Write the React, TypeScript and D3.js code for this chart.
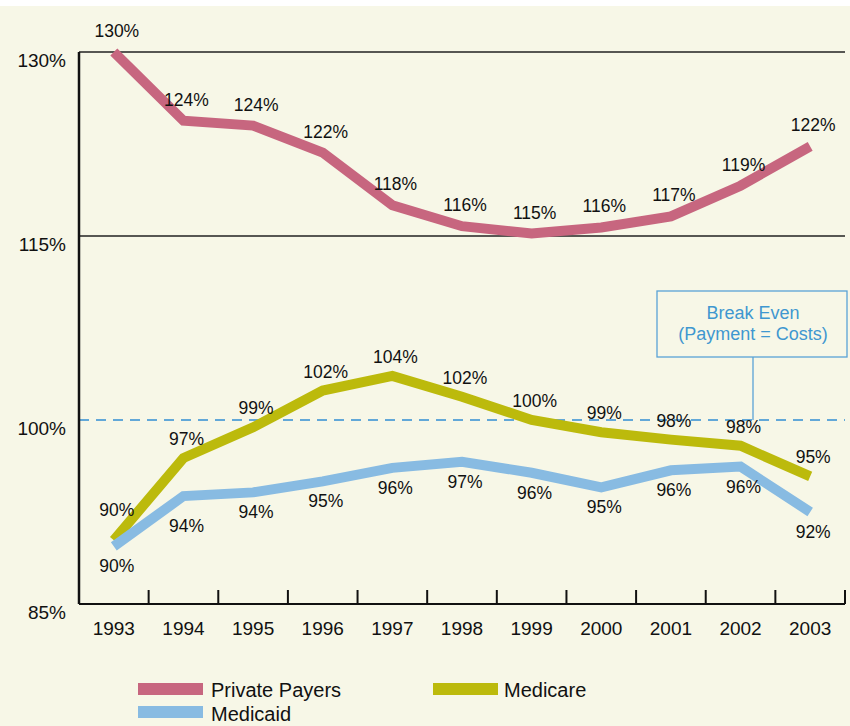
import React from "react";
import { scaleLinear, scaleBand, line } from "d3";

const years = ["1993", "1994", "1995", "1996", "1997", "1998", "1999", "2000", "2001", "2002", "2003"];
const privatePayers = [130, 124.4, 124.0, 121.8, 117.5, 115.8, 115.2, 115.7, 116.6, 119.1, 122.3];
const medicare = [90.2, 96.9, 99.4, 102.4, 103.6, 101.9, 100.0, 99.0, 98.4, 97.9, 95.4];
const medicaid = [89.7, 93.8, 94.1, 95.0, 96.1, 96.6, 95.7, 94.5, 95.9, 96.2, 92.5];
const privateLabels = ["130%", "124%", "124%", "122%", "118%", "116%", "115%", "116%", "117%", "119%", "122%"];
const medicareLabels = ["90%", "97%", "99%", "102%", "104%", "102%", "100%", "99%", "98%", "98%", "95%"];
const medicaidLabels = ["90%", "94%", "94%", "95%", "96%", "97%", "96%", "95%", "96%", "96%", "92%"];
const yTicks = [130, 115, 100, 85];

const W = 850;
const H = 726;
const margin = { left: 79, right: 5, top: 52, bottom: 122 };
const FONT = "'Liberation Sans', Arial, sans-serif";

export default function App() {
    const x = scaleBand().domain(years).range([margin.left, W - margin.right]);
    const y = scaleLinear().domain([85, 130]).range([H - margin.bottom, margin.top]);
    const cx = (i: number) => (x(years[i]) as number) + x.bandwidth() / 2;

    const mkLine = line<number>().x((_, i) => cx(i)).y(d => y(d));

    const series = [
        { name: "Private Payers", values: privatePayers, labels: privateLabels, color: "#c7667f", dy: -15 },
        { name: "Medicare", values: medicare, labels: medicareLabels, color: "#bcba0c", dy: -13 },
        { name: "Medicaid", values: medicaid, labels: medicaidLabels, color: "#88bbe2", dy: 26 }
    ];

    const x0 = margin.left;
    const x1 = W - margin.right;
    const yBase = y(85);
    const breakX = 753;

    return (
        <div style={{ position: "absolute", left: 0, top: 0 }}>
            <svg width={W} height={H} style={{ display: "block" }} fontFamily={FONT}>
                <rect x={0} y={0} width={W} height={H} fill="#ffffff" />
                <rect x={0} y={6} width={W} height={H - 6} fill="#f7f7e7" />

                {/* grid lines */}
                {[130, 115].map(t => (
                    <line key={t} x1={x0} x2={x1} y1={y(t)} y2={y(t)} stroke="#222" strokeWidth={1.3} />
                ))}

                {/* break even */}
                <line x1={x0} x2={x1} y1={y(100)} y2={y(100)} stroke="#62a8d8" strokeWidth={2} strokeDasharray="10 7" />
                <line x1={breakX} x2={breakX} y1={357} y2={y(100)} stroke="#5aa3d6" strokeWidth={1.3} />
                <rect x={657} y={291} width={190} height={66} fill="#f7f7e7" stroke="#5aa3d6" strokeWidth={1.3} />
                <text x={breakX} y={319} textAnchor="middle" fontSize={18} fill="#3f97d0">Break Even</text>
                <text x={breakX} y={340} textAnchor="middle" fontSize={18} fill="#3f97d0">(Payment = Costs)</text>

                {/* axes */}
                <line x1={x0} x2={x0} y1={y(130)} y2={yBase} stroke="#111" strokeWidth={2.5} />
                <line x1={x0} x2={x1} y1={yBase} y2={yBase} stroke="#111" strokeWidth={2} />
                {years.map(yr => (
                    <line key={yr} x1={(x(yr) as number) + x.bandwidth()} x2={(x(yr) as number) + x.bandwidth()}
                        y1={yBase} y2={yBase - 14} stroke="#111" strokeWidth={2} />
                ))}
                {yTicks.map(t => (
                    <text key={t} x={66} y={y(t) + 15} textAnchor="end" fontSize={19} fill="#111">{t}%</text>
                ))}
                {years.map((yr, i) => (
                    <text key={yr} x={cx(i)} y={yBase + 31} textAnchor="middle" fontSize={19} fill="#111">{yr}</text>
                ))}

                {/* lines */}
                {series.map(s => (
                    <path key={s.name} d={mkLine(s.values) || ""} fill="none" stroke={s.color} strokeWidth={10} strokeLinejoin="miter" />
                ))}

                {/* value labels */}
                {series.map(s => s.labels.map((lb, i) => {
                    let dy = s.dy;
                    if (s.name === "Medicare" && i === 0) dy = -24;
                    if (s.name === "Medicaid" && i === 1) dy = 36;
                    return (
                        <text key={s.name + i} x={cx(i) + 3} y={y(s.values[i]) + dy} textAnchor="middle" fontSize={17.5} fill="#111">{lb}</text>
                    );
                }))}

                {/* legend */}
                <rect x={138} y={683} width={65} height={12} fill="#c7667f" />
                <text x={211} y={697} fontSize={20} fill="#111">Private Payers</text>
                <rect x={433} y={683} width={65} height={12} fill="#bcba0c" />
                <text x={504} y={697} fontSize={20} fill="#111">Medicare</text>
                <rect x={138} y={706} width={65} height={12} fill="#88bbe2" />
                <text x={211} y={721} fontSize={20} fill="#111">Medicaid</text>
            </svg>
        </div>
    );
}
